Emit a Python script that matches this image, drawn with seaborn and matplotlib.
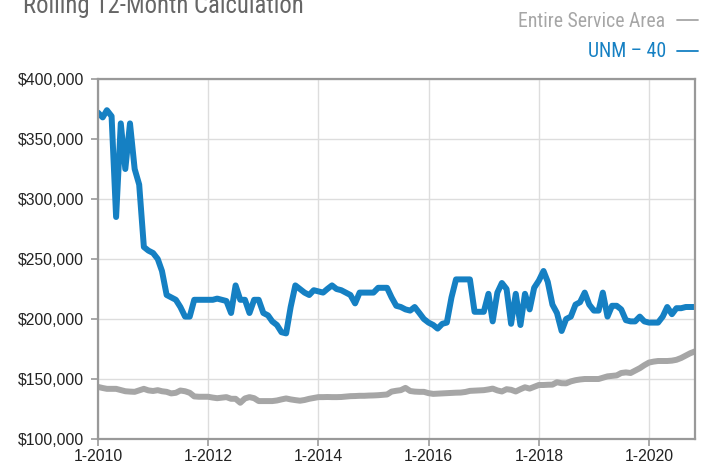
import matplotlib
matplotlib.use("Agg")
import matplotlib.pyplot as plt
import matplotlib.dates as mdates
from matplotlib import font_manager
from matplotlib.lines import Line2D
import numpy as np
import pandas as pd
import seaborn as sns

# ---------------------------------------------------------------------------
# Data (values in $1,000, monthly from Jan 2010)
# ---------------------------------------------------------------------------

start_month = "2010-01-01"

unm_40 = [
    372, 368, 374, 369, 285, 363, 325, 363, 325, 312,
    260, 257, 255, 250, 240, 220, 218, 216, 210, 202,
    202, 216, 216, 216, 216, 216, 217, 216, 215, 205,
    228, 216, 216, 205, 216, 216, 205, 203, 198, 195,
    189, 188, 210, 228, 225, 222, 220, 224, 223, 222,
    225, 228, 225, 224, 222, 220, 213, 222, 222, 222,
    222, 226, 226, 226, 218, 211, 210, 208, 207, 210,
    205, 200, 197, 195, 192, 196, 197, 218, 233, 233,
    233, 233, 206, 206, 206, 221, 198, 222, 230, 225,
    196, 221, 195, 221, 208, 226, 232, 240, 231, 212,
    205, 190, 200, 202, 212, 214, 222, 212, 207, 207,
    222, 202, 211, 211, 208, 199, 198, 198, 202, 198,
    197, 197, 197, 202, 210, 204, 209, 209, 210, 210,
    210,
]

entire_area = [
    143.4, 142.5, 141.8, 141.8, 141.8, 140.8, 139.8, 139.5, 139.3, 140.5,
    141.8, 140.5, 140.0, 140.7, 139.8, 139.3, 138.0, 138.5, 140.4, 139.8,
    138.5, 135.5, 135.2, 135.2, 135.2, 134.5, 134.0, 134.5, 134.9, 133.5,
    133.5, 130.2, 133.8, 134.9, 134.0, 131.6, 131.6, 131.6, 131.6, 132.1,
    133.0, 133.8, 133.0, 132.4, 131.9, 132.5, 133.5, 134.2, 134.9, 134.9,
    135.0, 134.9, 134.9, 135.0, 135.3, 135.7, 135.8, 136.0, 136.0, 136.2,
    136.3, 136.5, 136.8, 137.1, 139.5, 140.2, 140.7, 142.6, 140.0, 139.5,
    139.3, 139.3, 138.2, 137.6, 137.8, 138.0, 138.3, 138.5, 138.6, 138.7,
    139.2, 140.1, 140.3, 140.5, 140.7, 141.3, 142.0, 140.5, 139.6, 141.5,
    141.0, 139.6, 141.5, 143.1, 142.0, 143.5, 145.0, 145.0, 145.2, 145.3,
    147.3, 146.5, 146.4, 148.0, 149.0, 149.6, 150.0, 150.0, 150.0, 150.0,
    151.0, 152.2, 152.6, 153.0, 155.0, 155.5, 155.0, 157.0, 159.0, 161.5,
    163.7, 164.5, 165.0, 165.0, 165.0, 165.3, 166.0, 167.5, 169.5, 171.5,
    173.0,
]

series_names = ["Entire Service Area", "UNM – 40"]
series_colors = ["#a6a6a6", "#1580c3"]
y_ticks = [100000, 150000, 200000, 250000, 300000, 350000, 400000]
title = "Rolling 12-Month Calculation"

# ---------------------------------------------------------------------------
# Build table
# ---------------------------------------------------------------------------

dates = pd.date_range(start_month, periods=len(unm_40), freq="MS")
df = pd.concat([
    pd.DataFrame({"date": dates, "value": np.array(entire_area) * 1000, "series": series_names[0]}),
    pd.DataFrame({"date": dates, "value": np.array(unm_40) * 1000, "series": series_names[1]}),
])

# ---------------------------------------------------------------------------
# Plot
# ---------------------------------------------------------------------------

sns.set_theme(style="white")
installed = {f.name for f in font_manager.fontManager.ttflist}
narrow = next(
    (n for n in ["Liberation Sans Narrow", "Arial Narrow", "Roboto Condensed",
                 "Archivo Narrow", "PT Sans Narrow", "Fira Sans Condensed",
                 "IBM Plex Sans Condensed"] if n in installed),
    "Liberation Sans",
)
plt.rcParams["font.family"] = ["Liberation Sans", "DejaVu Sans"]

W, H = 706, 466
fig = plt.figure(figsize=(W / 100, H / 100), dpi=100)
ax = fig.add_axes([98 / W, 1 - 439 / H, (695 - 98) / W, (439 - 79) / H])

sns.lineplot(
    data=df, x="date", y="value", hue="series",
    palette=dict(zip(series_names, series_colors)),
    linewidth=4.3, legend=False, ax=ax,
)

ax.set_xlim(dates[0], dates[-1])
ax.set_ylim(y_ticks[0], y_ticks[-1])
ax.set_yticks(y_ticks)
ax.yaxis.set_major_formatter(plt.FuncFormatter(lambda v, _: f"${v:,.0f}"))
ax.xaxis.set_major_locator(mdates.YearLocator(2))
ax.xaxis.set_major_formatter(plt.FuncFormatter(lambda v, _: "1-" + mdates.num2date(v).strftime("%Y")))
ax.set_xlabel("")
ax.set_ylabel("")

ax.grid(True, color="#dddddd", linewidth=1.0)
ax.set_axisbelow(True)
for side in ["left", "bottom", "top", "right"]:
    ax.spines[side].set_color("#999999")
    ax.spines[side].set_linewidth(1.6)
ax.tick_params(axis="both", length=5, width=1.2, color="#999999",
               labelsize=11.3, labelcolor="#222222", pad=5, direction="out")
ax.tick_params(axis="x", bottom=True, pad=2)
ax.tick_params(axis="y", left=True)

renderer = fig.canvas.get_renderer()


def fitted_text(x_px, y_px, s, target_w, color, ha):
    # put a text in pixel coords, sized so it spans target_w pixels
    t = fig.text(x_px / W, 1 - y_px / H, s, fontsize=14, color=color,
                 ha=ha, va="baseline", family=[narrow, "DejaVu Sans"])
    w = t.get_window_extent(renderer).width
    t.set_fontsize(14 * target_w / w)
    return t


fitted_text(22.7, 13.3, title, 282, "#666666", "left")
fitted_text(665.5, 26.7, series_names[0], 148, series_colors[0], "right")
fitted_text(666.7, 56.7, series_names[1], 79, series_colors[1], "right")

for y_px, c in [(19.5, series_colors[0]), (50.5, series_colors[1])]:
    fig.add_artist(Line2D([677 / W, 698 / W], [1 - y_px / H] * 2,
                          transform=fig.transFigure, color=c, linewidth=1.3))

fig.savefig("out.png", dpi=100)
